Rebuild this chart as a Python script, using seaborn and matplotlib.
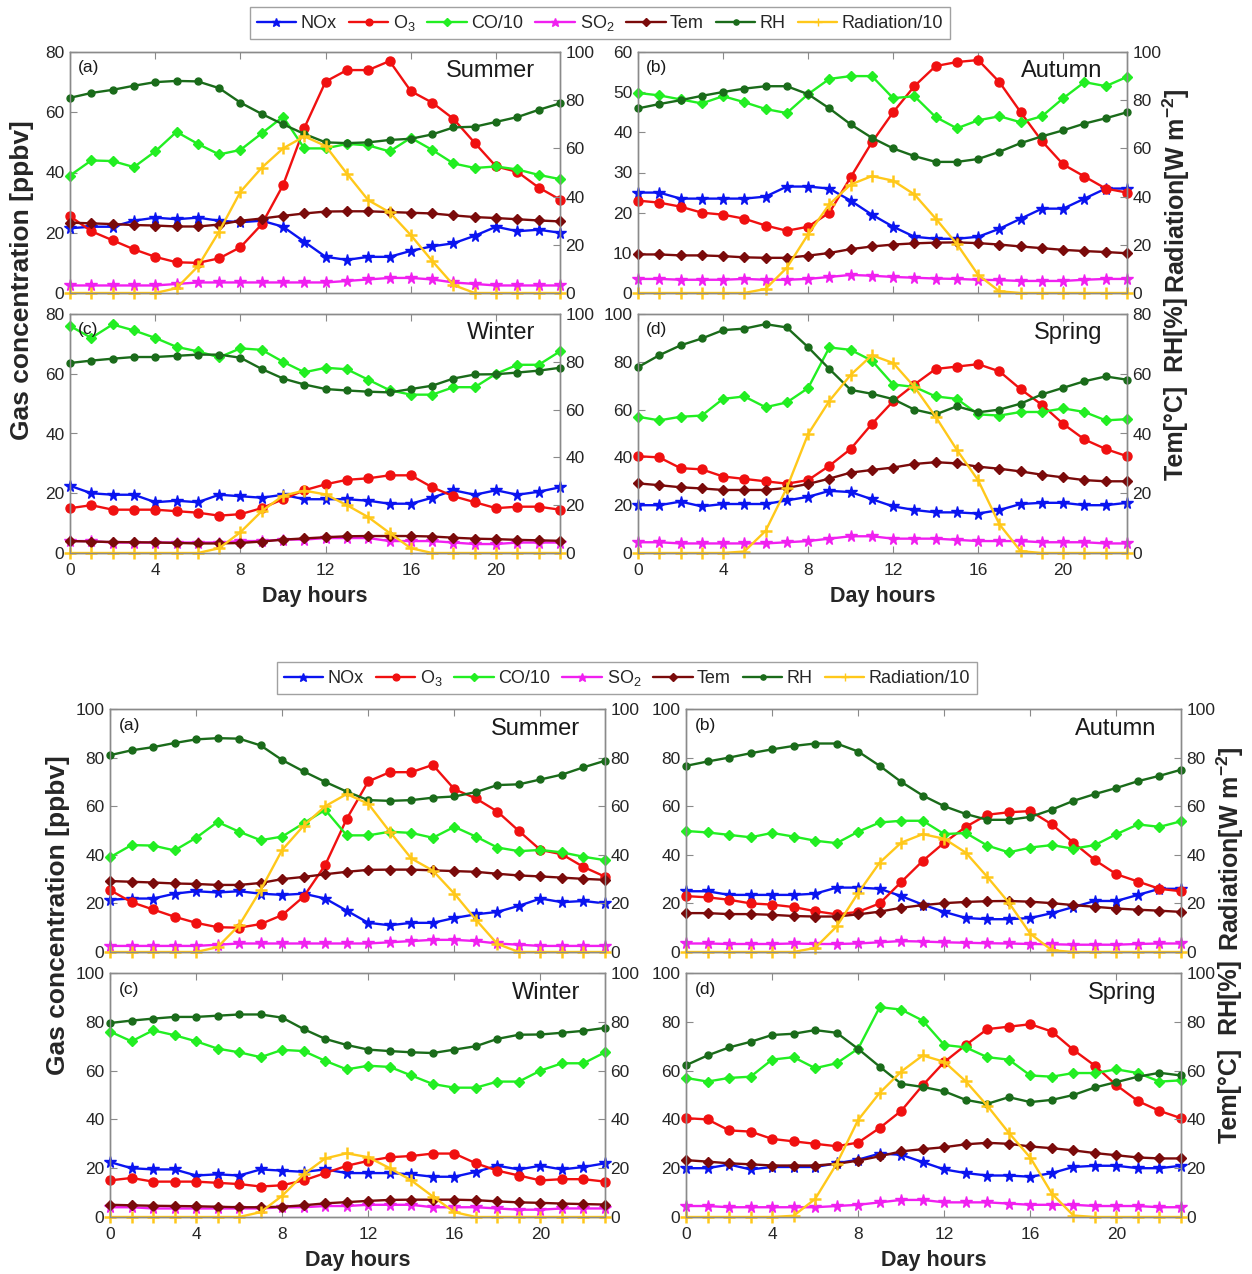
import matplotlib
matplotlib.use("Agg")
import matplotlib.pyplot as plt
from matplotlib.lines import Line2D
import seaborn as sns

hours = list(range(24))
seasons = ["Summer", "Autumn", "Winter", "Spring"]
panel_tags = ["(a)", "(b)", "(c)", "(d)"]

# ---- Summer ----
nox_summer = [21.5, 22, 22, 24, 25, 24.5, 25, 24, 23.5, 24, 22, 17, 12, 11, 12, 12, 14, 15.5, 16.5, 19, 22, 20.5, 21, 20]
o3_summer = [25.5, 20.5, 17.5, 14.5, 12, 10.2, 10, 11.5, 15.2, 22.8, 35.8, 54.8, 70.2, 74, 74, 77, 67, 63.2, 57.8, 49.8, 42, 40.2, 35, 31]
co_summer = [39, 44, 43.8, 41.8, 47, 53.5, 49.5, 46, 47.5, 53, 58.5, 48, 48, 49.5, 49, 47, 51.5, 47.5, 43, 41.5, 42, 41, 39.2, 37.8]
so2_summer = [2.5, 2.5, 2.5, 2.5, 2.5, 3, 3.5, 3.5, 3.5, 3.5, 3.5, 3.5, 3.5, 4, 4.5, 5, 5, 4.5, 3.5, 3, 2.5, 2.5, 2.5, 2.5]
tem_summer = [29.2, 28.9, 28.6, 28.2, 28, 27.6, 27.6, 28.4, 30, 30.9, 32, 33, 33.8, 33.9, 33.9, 33.6, 33.3, 33, 32.2, 31.5, 31.1, 30.6, 30.1, 29.7]
rh_summer = [81, 83, 84.3, 86, 87.5, 88, 87.8, 85, 79, 74.3, 70, 66, 62.5, 62.2, 62.5, 63.5, 64, 65.8, 68.7, 69, 71, 73, 76, 78.7]
rad_summer = [0, 0, 0, 0, 0, 2, 11, 25.5, 42, 52, 60, 65, 61, 49.5, 38.5, 33.5, 24, 13.3, 3.3, 0, 0, 0, 0, 0]

# ---- Autumn ----
nox_autumn = [25, 25, 23.5, 23.5, 23.5, 23.5, 24, 26.5, 26.5, 26, 23, 19.5, 16.5, 14, 13.5, 13.5, 14, 16, 18.5, 21, 21, 23.5, 26, 26]
o3_autumn = [23, 22.5, 21.5, 20, 19.5, 18.5, 16.8, 15.5, 16.5, 20, 28.8, 37.5, 45, 51.5, 56.5, 57.5, 58, 52.5, 45, 37.8, 32, 29, 26, 25]
co_autumn = [49.8, 49.2, 48.2, 47.2, 49, 47.5, 45.8, 44.8, 49.5, 53.3, 54, 54, 48.5, 49, 43.8, 41, 43, 44, 42.5, 44, 48.5, 52.5, 51.5, 53.8]
so2_autumn = [3.5, 3.5, 3.3, 3.3, 3.3, 3.5, 3.3, 3.3, 3.5, 4, 4.5, 4.3, 4, 3.8, 3.6, 3.5, 3.3, 3.2, 3, 3, 3, 3.3, 3.5, 3.5]
tem_autumn = [16, 16, 15.6, 15.6, 15.3, 14.8, 14.6, 14.6, 15.5, 16.6, 18.2, 19.3, 20.1, 20.6, 20.9, 21, 20.7, 20.1, 19.3, 18.6, 17.9, 17.4, 17, 16.5]
rh_autumn = [76.6, 78.4, 80, 81.8, 83.4, 84.8, 85.8, 85.8, 82.5, 76.6, 70, 64.4, 60, 56.8, 54.4, 54.4, 55.6, 58.6, 62.2, 65, 67.5, 70.3, 72.5, 75]
rad_autumn = [0, 0, 0, 0, 0, 0, 1.7, 10.5, 24.3, 36.8, 45, 48.5, 46.6, 40.9, 30.9, 20.3, 7.5, 0.7, 0, 0, 0, 0, 0, 0]

# ---- Winter ----
nox_winter = [22.5, 20, 19.5, 19.5, 17, 17.5, 17, 19.5, 19, 18.5, 19.5, 18, 18, 18, 17.5, 16.5, 16.5, 18.5, 21, 19.5, 21, 19.5, 20.5, 22]
o3_winter = [15, 16, 14.5, 14.5, 14.5, 14, 13.5, 12.5, 13, 15, 18, 21, 23, 24.5, 25, 26, 26, 22, 19, 17, 15, 15.5, 15.5, 14.5]
co_winter = [76, 72, 76.5, 74.5, 72, 69, 67.5, 65.5, 68.5, 68, 64, 60.5, 62, 61.5, 58, 54.5, 53, 53, 55.5, 55.5, 60, 63, 63, 67.5]
so2_winter = [4, 4, 3.5, 3.5, 3.5, 3.5, 3.5, 3.5, 4, 4, 4.5, 4.5, 5, 5, 5, 4, 4, 4, 3.5, 3, 3, 3.5, 3.5, 3.5]
tem_winter = [5, 4.8, 4.6, 4.5, 4.4, 4.2, 4, 4, 4.2, 4.8, 5.6, 6.1, 6.6, 7, 7.1, 7.1, 7.1, 6.9, 6.4, 6, 5.8, 5.5, 5.3, 5.1]
rh_winter = [79.5, 80.5, 81.3, 82, 82, 82.5, 83, 83, 81.7, 77, 73, 70.5, 68.6, 68, 67.5, 67.2, 68.6, 70, 73, 74.7, 74.8, 75.5, 76.3, 77.5]
rad_winter = [0, 0, 0, 0, 0, 0, 0, 2, 8.7, 17.5, 24, 26.1, 24.5, 20, 15, 8.4, 2, 0, 0, 0, 0, 0, 0, 0]

# ---- Spring ----
nox_spring = [20, 20, 21.5, 19.5, 20.5, 20.5, 20.5, 22, 23.5, 26, 25.5, 22.5, 19.5, 18, 17, 17, 16.5, 18, 20.5, 21, 21, 20, 20, 21]
o3_spring = [40.5, 40, 35.5, 35, 32, 31, 30, 29, 30.5, 36.5, 43.5, 54, 63.5, 70.5, 77, 78, 79, 76, 68.5, 62, 54, 47.5, 43.5, 40.5]
co_spring = [57, 55.5, 57, 57.5, 64.5, 65.5, 61, 63, 69, 86, 85, 80.5, 70.5, 69.5, 65.5, 64.5, 58, 57.5, 59, 59, 60.5, 59, 55.5, 56]
so2_spring = [4.5, 4.5, 4, 4, 4, 4, 4, 4.5, 5, 6, 7, 7, 6, 6, 6, 5.5, 5, 5, 5, 4.5, 4.5, 4.5, 4, 4]
tem_spring = [23.3, 22.7, 22, 21.6, 21.1, 21.1, 21.1, 21.8, 23.1, 24.9, 26.9, 27.8, 28.6, 29.8, 30.4, 30, 28.9, 28.2, 27.3, 26.2, 25.3, 24.4, 24, 24]
rh_spring = [62.2, 66.2, 69.5, 71.8, 74.6, 75.1, 76.6, 75.5, 68.9, 61.6, 54.6, 53.3, 51.5, 48, 46.4, 49.1, 47.1, 48, 50, 53.1, 55.3, 57.5, 59.1, 58]
rad_spring = [0, 0, 0, 0, 0, 0.5, 7.4, 21.8, 39.8, 50.9, 59.6, 66.2, 63.6, 55.6, 45.6, 34.5, 24.3, 9.6, 0.6, 0, 0, 0, 0, 0]

nox = [nox_summer, nox_autumn, nox_winter, nox_spring]
o3 = [o3_summer, o3_autumn, o3_winter, o3_spring]
co = [co_summer, co_autumn, co_winter, co_spring]
so2 = [so2_summer, so2_autumn, so2_winter, so2_spring]
tem = [tem_summer, tem_autumn, tem_winter, tem_spring]
rh = [rh_summer, rh_autumn, rh_winter, rh_spring]
rad = [rad_summer, rad_autumn, rad_winter, rad_spring]

series_labels = ["NOx", "O$_3$", "CO/10", "SO$_2$", "Tem", "RH", "Radiation/10"]

# ---- styling ----
sns.set_theme(style="white")
plt.rcParams["font.family"] = ["Liberation Sans", "DejaVu Sans"]
plt.rcParams["mathtext.fontset"] = "custom"
plt.rcParams["mathtext.rm"] = "Liberation Sans"
plt.rcParams["mathtext.it"] = "Liberation Sans"
plt.rcParams["mathtext.bf"] = "Liberation Sans:bold"

colors = ["#0a14f0", "#f01010", "#22ee22", "#f020f0", "#7a0a0a", "#1a6b1a", "#ffc81a"]
markers = ["*", "o", "D", "*", "D", "o", "+"]
msizes = [8.5, 6.5, 5, 8.5, 5, 5, 8]
spine_c = "#8a8a8a"
tick_c = "#262626"

W, H = 1252, 1274
fig = plt.figure(figsize=(W / 100, H / 100), dpi=100)


def frac_rect(x0, x1, ytop, ybot):
    return [x0 / W, 1 - ybot / H, (x1 - x0) / W, (ybot - ytop) / H]


def draw_series(ax, k, vals):
    sns.lineplot(x=hours, y=vals, ax=ax, color=colors[k], marker=markers[k],
                 markersize=msizes[k], markeredgecolor=colors[k],
                 markeredgewidth=1.8 if markers[k] == "+" else 1.0,
                 linewidth=1.7, legend=False, clip_on=False)


def draw_panel(rect, i, lmax, lstep, rmax, rstep, xlabel):
    ax = fig.add_axes(rect)
    axr = ax.twinx()
    gas = [nox[i], o3[i], co[i], so2[i]]
    met = [tem[i], rh[i], rad[i]]
    for k, v in enumerate(gas):
        draw_series(ax, k, v)
    for k, v in enumerate(met):
        draw_series(axr, k + 4, v)
    ax.set_xlim(0, 23)
    ax.set_ylim(0, lmax)
    axr.set_ylim(0, rmax)
    ax.set_xticks([0, 4, 8, 12, 16, 20])
    ax.set_yticks(list(range(0, lmax + 1, lstep)))
    axr.set_yticks(list(range(0, rmax + 1, rstep)))
    ax.set_ylabel("")
    axr.set_ylabel("")
    for a in (ax, axr):
        for s in a.spines.values():
            s.set_color(spine_c)
            s.set_linewidth(1.0)
    ax.tick_params(axis="both", direction="in", length=5, width=0.8,
                   color=spine_c, labelcolor=tick_c, labelsize=12.5,
                   top=True, bottom=True, left=True, right=False, pad=4)
    ax.tick_params(axis="x", pad=7)
    axr.tick_params(axis="y", direction="in", length=5, width=0.8,
                    color=spine_c, labelcolor=tick_c, labelsize=12.5, pad=4)
    if xlabel:
        ax.set_xlabel("Day hours", fontsize=15.5, fontweight="bold", labelpad=6)
    else:
        ax.set_xlabel("")
        ax.set_xticklabels([])
    ax.text(0.017, 0.965, panel_tags[i], transform=ax.transAxes, ha="left",
            va="top", fontsize=12.5, color="#1a1a1a", zorder=10)
    ax.text(0.95, 0.965, seasons[i], transform=ax.transAxes, ha="right",
            va="top", fontsize=17, color="#1a1a1a", zorder=10)
    return ax


def add_legend(cx, cy):
    handles = [Line2D([], [], color=colors[k], marker=markers[k],
                      markersize=msizes[k] * 0.75, markeredgecolor=colors[k],
                      linewidth=1.7) for k in range(7)]
    fig.legend(handles, series_labels, loc="center",
               bbox_to_anchor=(cx / W, 1 - cy / H), ncol=7, fontsize=13,
               frameon=True, fancybox=False, edgecolor=spine_c,
               handlelength=2.2, handletextpad=0.25, columnspacing=0.65,
               borderpad=0.35)


def side_label(x, y, text):
    fig.text(x / W, 1 - y / H, text, rotation=90, ha="center", va="center",
             fontsize=18, fontweight="bold")


# ---- upper figure: met variables on separately scaled right axes ----
draw_panel(frac_rect(70, 560, 52, 293), 0, 80, 20, 100, 20, False)
draw_panel(frac_rect(638, 1127, 52, 293), 1, 60, 10, 100, 20, False)
draw_panel(frac_rect(70, 560, 314, 553), 2, 80, 20, 100, 20, True)
draw_panel(frac_rect(638, 1127, 314, 553), 3, 100, 20, 80, 20, True)
add_legend(600, 23)
fig.text(22 / W, 1 - 280 / H, "Gas concentration [ppbv]", rotation=90,
         ha="center", va="center", fontsize=19, fontweight="bold")
side_label(1176, 191, r"Radiation[W m$^{\mathbf{-2}}$]")
side_label(1176, 389, "Tem[°C]  RH[%]")

# ---- lower figure: common 0-100 scale on both axes ----
draw_panel(frac_rect(110, 605, 709, 952), 0, 100, 20, 100, 20, False)
draw_panel(frac_rect(686, 1181, 709, 952), 1, 100, 20, 100, 20, False)
draw_panel(frac_rect(110, 605, 973, 1217), 2, 100, 20, 100, 20, True)
draw_panel(frac_rect(686, 1181, 973, 1217), 3, 100, 20, 100, 20, True)
add_legend(627, 678)
fig.text(58 / W, 1 - 915 / H, "Gas concentration [ppbv]", rotation=90,
         ha="center", va="center", fontsize=19, fontweight="bold")
side_label(1230, 849, r"Radiation[W m$^{\mathbf{-2}}$]")
side_label(1230, 1052, "Tem[°C]  RH[%]")

fig.savefig("out.png", dpi=100, facecolor="white")
